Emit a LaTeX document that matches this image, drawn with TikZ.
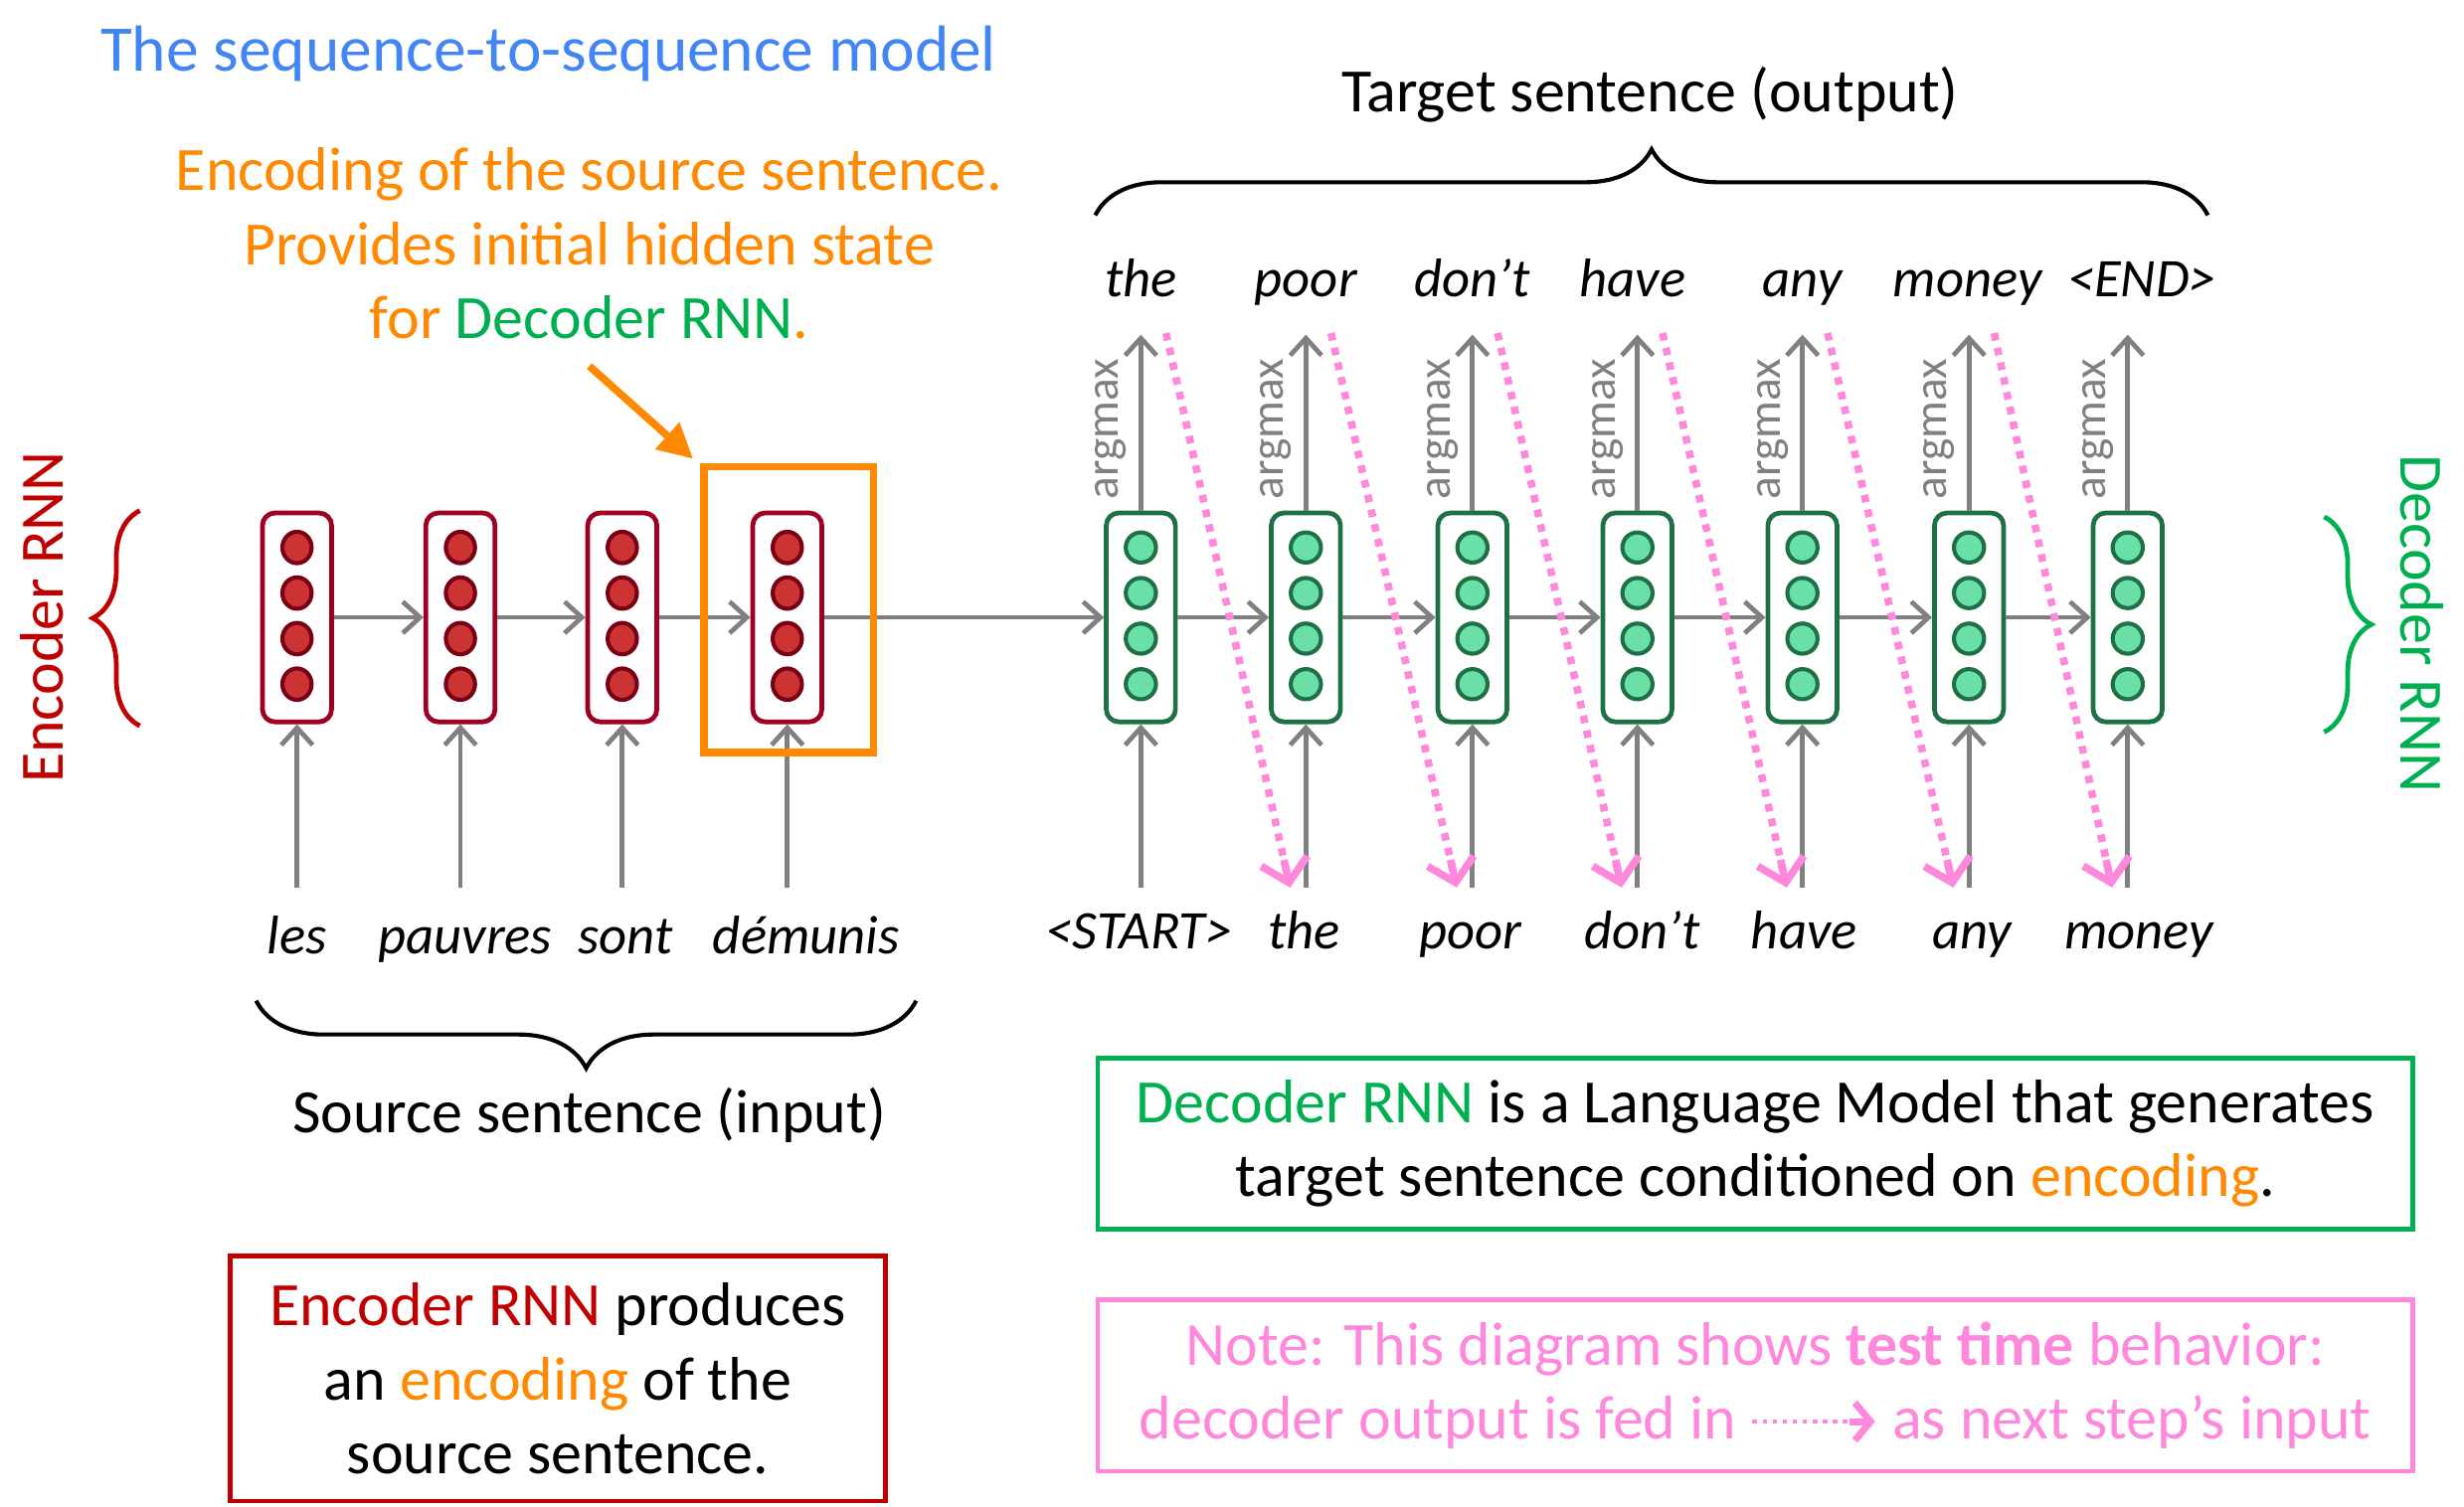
\documentclass[tikz,border=0pt]{standalone}
\usepackage{fontspec}
\setmainfont{Carlito}
\usetikzlibrary{arrows.meta,shapes.geometric,decorations.pathreplacing,calc}
\definecolor{titleblue}{RGB}{66,133,244}
\definecolor{orng}{RGB}{255,137,0}
\definecolor{grn}{RGB}{0,176,80}
\definecolor{rd}{RGB}{192,0,0}
\definecolor{pnk}{RGB}{255,136,221}
\definecolor{gry}{RGB}{128,128,128}
\definecolor{encb}{RGB}{160,0,32}
\definecolor{encf}{RGB}{204,51,51}
\definecolor{encc}{RGB}{122,0,21}
\definecolor{decb}{RGB}{30,113,69}
\definecolor{decf}{RGB}{106,223,168}
\newcommand\fsmain{\fontsize{19.6pt}{23.5pt}\selectfont}
\newcommand\fsword{\fontsize{17.3pt}{20pt}\selectfont\itshape}
\newcommand\fsarg{\fontsize{15pt}{18pt}\selectfont}
\newcommand\fstitle{\fontsize{20.7pt}{25pt}\selectfont}
\begin{document}
\begin{tikzpicture}[x=0.5pt,y=-0.5pt,
  lbl/.style={font=\fsmain, inner sep=0pt},
  word/.style={font=\fsword, inner sep=0pt, anchor=base},
  argm/.style={font=\fsarg, text=gry, rotate=90, inner sep=0pt},
  enccell/.style={draw=encb, line width=1.5pt, rounded corners=4pt, minimum width=22pt, minimum height=66.5pt, inner sep=0pt, fill=white},
  deccell/.style={draw=decb, line width=1.5pt, rounded corners=4pt, minimum width=22pt, minimum height=66.5pt, inner sep=0pt, fill=white},
  enccirc/.style={ellipse, draw=encc, fill=encf, line width=1.3pt, minimum width=9.3pt, minimum height=10pt, inner sep=0pt},
  deccirc/.style={ellipse, draw=decb, fill=decf, line width=1.3pt, minimum width=9.6pt, minimum height=9.6pt, inner sep=0pt},
  garrow/.style={draw=gry, line width=1.5pt, -{Straight Barb[length=5.5pt,width=10pt]}},
  pline/.style={draw=pnk, line width=2.4pt, dash pattern=on 2.4pt off 2.4pt},
  ptip/.style={draw=pnk, line width=2.4pt, solid, -{Straight Barb[length=7pt,width=15pt]}},
  brc/.style={line width=1.3pt, decorate, decoration={brace, amplitude=#1}},
  tbox/.style={line width=1.5pt, minimum width=418.5pt, minimum height=54.5pt, align=center, font=\fsmain, inner sep=0pt}
]
\useasboundingbox (0,0) rectangle (1568,959);

% title
\node[font=\fstitle, text=titleblue, anchor=base, inner sep=0pt] (title) at (349,45) {The sequence-to-sequence model};

% orange explanation
\node[lbl, text=orng, align=center] (otext) at (375,155) {Encoding of the source sentence.\\Provides initial hidden state\\for {\color{grn}Decoder RNN}.};

% encoder cells
\foreach \x [count=\i] in {189,293,396,501} {
  \node[enccell] (e\i) at (\x,393) {};
  \foreach \dy [count=\j] in {-44,-15,14,43}
    \node[enccirc] (e\i-\j) at (\x,392.5+\dy) {};
  \coordinate (ei\i) at (\x,565);
  \draw[garrow] (ei\i) -- (e\i);
}
% decoder cells
\foreach \x [count=\i] in {726,831,937,1042,1147,1253,1354} {
  \node[deccell] (d\i) at (\x,393) {};
  \foreach \dy [count=\j] in {-44,-15,14,43}
    \node[deccirc] (d\i-\j) at (\x,392.5+\dy) {};
  \coordinate (di\i) at (\x,565);
  \coordinate (do\i) at (\x,213);
  \draw[garrow] (di\i) -- (d\i);
  \draw[garrow] (d\i) -- (do\i);
  \node[argm] (am\i) at (\x-19,273) {argmax};
}
% recurrent arrows
\foreach \i/\j in {1/2,2/3,3/4} \draw[garrow] (e\i) -- (e\j);
\draw[garrow] (e4) -- (d1);
\foreach \i/\j in {1/2,2/3,3/4,4/5,5/6,6/7} \draw[garrow] (d\i) -- (d\j);

% encoder words
\node[word] (w1) at (189,607) {les};
\node[word] (w2) at (296,607) {pauvres};
\node[word] (w3) at (398,607) {sont};
\node[word] (w4) at (513,607) {démunis};

% decoder input words
\node[word] (in1) at (725,604) {<START>};
\node[word] (in2) at (830,604) {the};
\node[word] (in3) at (936,604) {poor};
\node[word] (in4) at (1045,604) {don’t};
\node[word] (in5) at (1148,604) {have};
\node[word] (in6) at (1255,604) {any};
\node[word] (in7) at (1361,604) {money};

% decoder output words
\node[word] (out1) at (726,189) {the};
\node[word] (out2) at (831,189) {poor};
\node[word] (out3) at (937,189) {don’t};
\node[word] (out4) at (1039,189) {have};
\node[word] (out5) at (1147,189) {any};
\node[word] (out6) at (1252,189) {money};
\node[word] (out7) at (1363,189) {<END>};

% pink feed arrows
\foreach \a/\b [count=\i] in {726/831,831/937,937/1042,1042/1147,1147/1253,1253/1354} {
  \coordinate (ps\i) at (\a+16,212);
  \coordinate (pe\i) at (\b-10,565);
  \draw[pline] (ps\i) -- ($(ps\i)!0.985!(pe\i)$);
  \draw[ptip] ($(ps\i)!0.95!(pe\i)$) -- (pe\i);
}

% braces
\draw[brc=21pt, draw=black] (697,137) -- (1405,137);
\node[lbl] (tgt) at (1050,60) {Target sentence (output)};
\draw[brc=21.5pt, draw=black] (583,637) -- (163,637);
\node[lbl] (src) at (375,710) {Source sentence (input)};
\draw[brc=15pt, draw=rd, line width=1.5pt] (89,462) -- (89,325);
\node[lbl, text=rd, rotate=90] (enclbl) at (27,393) {Encoder RNN};
\draw[brc=15pt, draw=grn, line width=1.5pt] (1479,329) -- (1479,466);
\node[lbl, text=grn, rotate=-90] (declbl) at (1541,397) {Decoder RNN};

% orange box and arrow
\node[draw=orng, line width=2.3pt, minimum width=54pt, minimum height=91pt, inner sep=0pt] (obox) at (502,388) {};
\coordinate (oa) at (375,233);
\coordinate (ob) at (441,292);
\draw[orng, line width=2.4pt, -{Triangle[length=11pt,width=11pt]}] (oa) -- (ob);

% text boxes
\node[tbox, draw=grn] (gbox) at (1117,728) {{\color{grn}Decoder RNN} is a Language Model that generates\\target sentence conditioned on {\color{orng}encoding}.};
\node[tbox, draw=rd, minimum width=208.5pt, minimum height=78pt] (rbox) at (355,877.5) {{\color{rd}Encoder RNN} produces\\an {\color{orng}encoding} of the\\source sentence.};
\node[tbox, draw=pnk, text=pnk] (pbox) at (1117,882) {Note: This diagram shows \textbf{test time} behavior:\\decoder output is fed in \tikz[baseline=-0.6ex]{\draw[pnk, line width=1.4pt, dash pattern=on 1.4pt off 1.8pt] (0pt,0pt) -- (33pt,0pt); \draw[pnk, line width=2.2pt, -{Straight Barb[length=5pt,width=12pt]}] (31pt,0pt) -- (39pt,0pt);} as next step’s input};
\end{tikzpicture}
\end{document}
